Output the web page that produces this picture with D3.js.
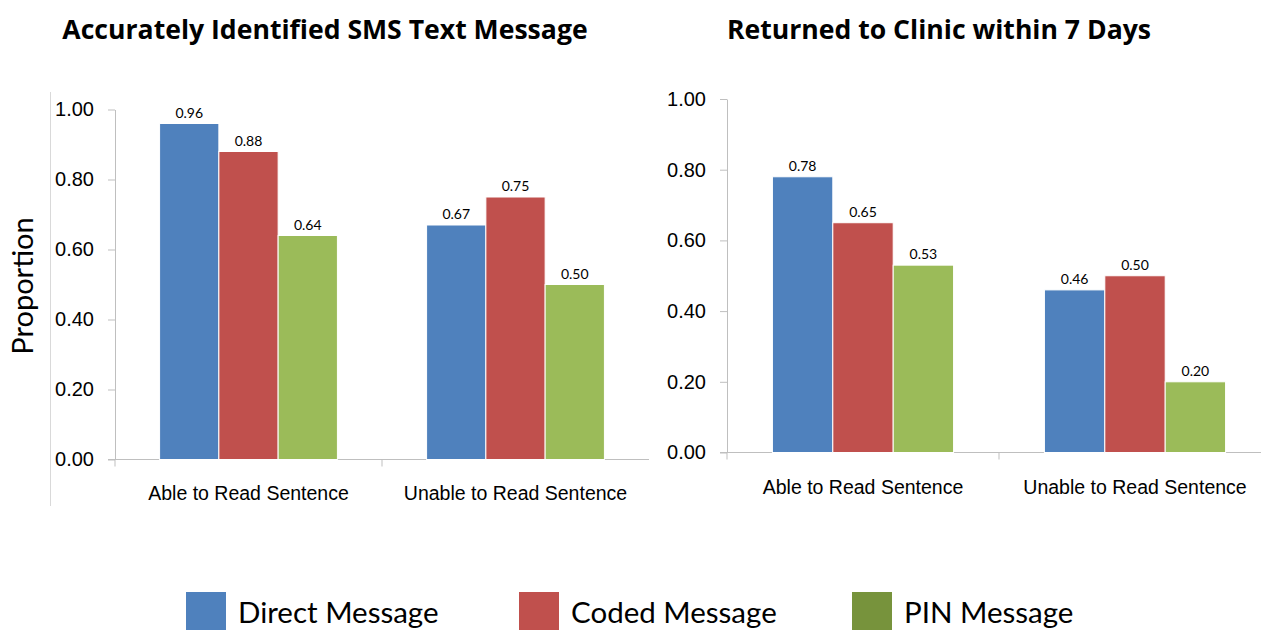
<!doctype html>
<html lang="en">
<head>
    <meta charset="UTF-8">
    <script src="https://cdnjs.cloudflare.com/ajax/libs/d3/7.0.0/d3.min.js"></script>
    <title>SMS study</title>
    <style>
        body { margin: 0; background: #fff; }
        svg { font-family: Lato, "Open Sans", sans-serif; }
        .axis .domain, .axis line { stroke: #bfbfbf; }
        .axis text { fill: #000; }
    </style>
</head>
<body>

<div id="viz_area"></div>

<script>
    const categories = ["Able to Read Sentence", "Unable to Read Sentence"];
    const seriesNames = ["Direct Message", "Coded Message", "PIN Message"];
    const barColors = ["#4f81bd", "#c0504d", "#9bbb59"];
    const legendColors = ["#4f81bd", "#c0504d", "#77933c"];
    const yTicks = [0, 0.2, 0.4, 0.6, 0.8, 1.0];

    // chart 1: accurately identified SMS
    const smsDirect = [0.96, 0.67];
    const smsCoded = [0.88, 0.75];
    const smsPin = [0.64, 0.50];

    // chart 2: returned to clinic within 7 days
    const clinicDirect = [0.78, 0.46];
    const clinicCoded = [0.65, 0.50];
    const clinicPin = [0.53, 0.20];

    const width = 1261, height = 630;

    const svg = d3.select('#viz_area')
        .append("svg")
        .attr("width", width)
        .attr("height", height);

    function drawChart(opts) {
        const values = [opts.direct, opts.coded, opts.pin];
        const g = svg.append("g");

        const x0 = d3.scaleBand()
            .domain(categories)
            .range([opts.left, opts.right]);

        const pad = x0.bandwidth() * 0.167;
        const x1 = d3.scaleBand()
            .domain(seriesNames)
            .range([pad, x0.bandwidth() - pad]);

        const y = d3.scaleLinear()
            .domain([0, 1])
            .range([opts.bottom, opts.top]);

        // title
        g.append("text")
            .attr("x", opts.titleX)
            .attr("y", 39)
            .attr("text-anchor", "middle")
            .style("font-family", "'Open Sans', sans-serif")
            .style("font-weight", "bold")
            .style("font-size", "26.6px")
            .text(opts.title);

        // y axis
        g.append("g")
            .attr("class", "axis")
            .attr("transform", "translate(" + opts.left + ",0)")
            .call(d3.axisLeft(y).tickValues(yTicks).tickFormat(d3.format(".2f"))
                .tickSize(7).tickPadding(14).tickSizeOuter(0))
            .selectAll("text")
            .style("font-size", "20px");

        // x axis, labels only; ticks sit at band edges
        const xa = g.append("g")
            .attr("class", "axis")
            .attr("transform", "translate(0," + opts.bottom + ")")
            .call(d3.axisBottom(x0).tickSize(0).tickPadding(opts.labelPad).tickSizeOuter(0));
        xa.select(".domain").remove();
        xa.selectAll("text").style("font-size", "19.5px");

        g.append("line")
            .attr("x1", opts.left - 7)
            .attr("x2", opts.right)
            .attr("y1", opts.bottom)
            .attr("y2", opts.bottom)
            .style("stroke", "#bfbfbf");

        g.selectAll(".edge")
            .data(categories)
            .join("line")
            .attr("class", "edge")
            .attr("x1", d => x0(d))
            .attr("x2", d => x0(d))
            .attr("y1", opts.bottom)
            .attr("y2", opts.bottom + 7)
            .style("stroke", "#bfbfbf");

        // bars
        const groups = g.selectAll(".grp")
            .data(categories)
            .join("g")
            .attr("class", "grp")
            .attr("transform", d => "translate(" + x0(d) + ",0)");

        const cells = groups.selectAll("g")
            .data((c, ci) => seriesNames.map((s, si) => ({s: s, si: si, v: values[si][ci]})))
            .join("g");

        cells.append("rect")
            .attr("x", d => x1(d.s))
            .attr("y", d => y(d.v))
            .attr("width", x1.bandwidth())
            .attr("height", d => y(0) - y(d.v))
            .style("fill", d => barColors[d.si])
            .style("stroke", "#fff")
            .style("stroke-width", 1);

        cells.append("text")
            .attr("x", d => x1(d.s) + x1.bandwidth() / 2)
            .attr("y", d => y(d.v) - 6)
            .attr("text-anchor", "middle")
            .style("font-size", "14px")
            .text(d => d3.format(".2f")(d.v));
    }

    // thin border line at far left of first plot
    svg.append("line")
        .attr("x1", 50.5).attr("x2", 50.5)
        .attr("y1", 92).attr("y2", 506)
        .style("stroke", "#d9d9d9");

    svg.append("text")
        .attr("transform", "translate(33,286) rotate(-90)")
        .attr("text-anchor", "middle")
        .style("font-size", "29px")
        .text("Proportion");

    drawChart({
        title: "Accurately Identified SMS Text Message", titleX: 325,
        left: 115, right: 649, top: 109.5, bottom: 459.5, labelPad: 27,
        direct: smsDirect, coded: smsCoded, pin: smsPin
    });

    drawChart({
        title: "Returned to Clinic within 7 Days", titleX: 939,
        left: 727, right: 1271, top: 99, bottom: 452.5, labelPad: 28,
        direct: clinicDirect, coded: clinicCoded, pin: clinicPin
    });

    // legend
    const legendX = [186, 519, 852];
    const legend = svg.selectAll(".leg")
        .data(seriesNames)
        .join("g")
        .attr("class", "leg")
        .attr("transform", (d, i) => "translate(" + legendX[i] + ",592)");

    legend.append("rect")
        .attr("width", 40)
        .attr("height", 40)
        .style("fill", (d, i) => legendColors[i]);

    legend.append("text")
        .attr("x", 52)
        .attr("y", 31)
        .style("font-size", "29.5px")
        .text(d => d);
</script>
</body>
</html>
